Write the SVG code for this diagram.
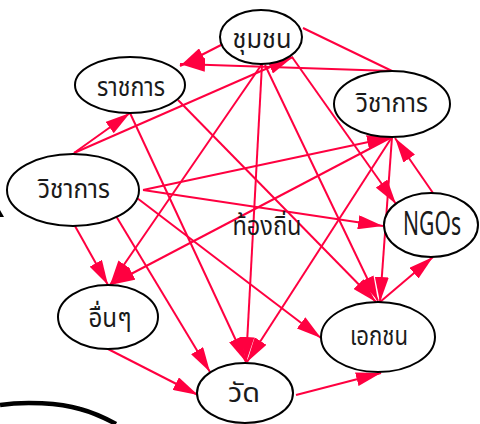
<svg xmlns="http://www.w3.org/2000/svg" width="480" height="424" viewBox="0 0 480 424">
<style>
.n ellipse{fill:#fff;stroke:#000;stroke-width:2}
.n text{font-family:"Noto Sans Thai","Loma","Garuda","Liberation Sans","Noto Sans",sans-serif;font-size:26px;fill:#1a1a1a;text-anchor:middle}
#edges line{stroke:#ff0040;stroke-width:2;fill:none}
#edges line.a{marker-end:url(#ah)}
</style>
<defs>
<marker id="ah" markerUnits="userSpaceOnUse" markerWidth="26" markerHeight="14" refX="25" refY="7" orient="auto">
<path d="M0,0 L25,7 L0,14 z" fill="#ff0040"/>
</marker>
</defs>
<rect width="480" height="424" fill="#fff"/>
<path d="M0,405 C25,401 60,403 80,409 C95,413 105,418 116,424" fill="none" stroke="#000" stroke-width="4.5"/>
<path d="M0,210 L4,217 L0,217 z" fill="#000"/>
<g id="edges">
<line class="a" x1="223" y1="44" x2="180" y2="66"/>
<line class="a" x1="392" y1="71" x2="180" y2="64"/>
<line class="a" x1="74" y1="153" x2="130" y2="113"/>
<line class="a" x1="74" y1="153" x2="293" y2="57"/>
<line x1="303" y1="28" x2="392" y2="71"/>
<line class="a" x1="262" y1="64" x2="110" y2="285"/>
<line class="a" x1="262" y1="64" x2="246" y2="362"/>
<line class="a" x1="292" y1="57" x2="396" y2="204"/>
<line class="a" x1="265" y1="65" x2="378" y2="301"/>
<line class="a" x1="130" y1="113" x2="246" y2="362"/>
<line class="a" x1="178" y1="100" x2="376" y2="302"/>
<line class="a" x1="75" y1="226" x2="108" y2="285"/>
<line class="a" x1="116" y1="216" x2="210" y2="372"/>
<line class="a" x1="143" y1="190" x2="392" y2="137"/>
<line class="a" x1="143" y1="190" x2="383" y2="226"/>
<line class="a" x1="137" y1="198" x2="321" y2="338"/>
<line class="a" x1="392" y1="137" x2="110" y2="285"/>
<line class="a" x1="392" y1="137" x2="247" y2="362"/>
<line class="a" x1="392" y1="137" x2="380" y2="302"/>
<line class="a" x1="433" y1="193" x2="395" y2="138"/>
<line class="a" x1="380" y1="302" x2="433" y2="257"/>
<line class="a" x1="108" y1="349" x2="198" y2="395"/>
<line class="a" x1="296" y1="395" x2="381" y2="373"/>
</g>
<g id="n-chumchon" class="n"><ellipse cx="261" cy="37" rx="41" ry="27"/><text x="262" y="48" textLength="59" lengthAdjust="spacingAndGlyphs">ชุมชน</text></g>
<g id="n-ratchakan" class="n"><ellipse cx="130" cy="85" rx="55" ry="28"/><text x="131" y="96" textLength="68" lengthAdjust="spacingAndGlyphs">ราชการ</text></g>
<g id="n-wichakan-r" class="n"><ellipse cx="392" cy="104" rx="58" ry="33"/><text x="392" y="112" textLength="72" lengthAdjust="spacingAndGlyphs">วิชาการ</text></g>
<g id="n-wichakan-l" class="n"><ellipse cx="73" cy="190" rx="66" ry="36"/><text x="74" y="198" textLength="72" lengthAdjust="spacingAndGlyphs">วิชาการ</text></g>
<g id="n-ngos" class="n"><ellipse cx="431" cy="225" rx="47" ry="32"/><text transform="translate(432,235) scale(1,1.35)" x="0" y="0" style="font-size:24px" textLength="58" lengthAdjust="spacingAndGlyphs">NGOs</text></g>
<g id="n-thongthin" class="n"><text x="267" y="235" textLength="69" lengthAdjust="spacingAndGlyphs">ท้องถิ่น</text></g>
<g id="n-ekkachon" class="n"><ellipse cx="378" cy="337" rx="57" ry="35"/><text x="379" y="345" textLength="58" lengthAdjust="spacingAndGlyphs">เอกชน</text></g>
<g id="n-uen" class="n"><ellipse cx="108" cy="317" rx="50" ry="32"/><text x="110" y="327" textLength="43" lengthAdjust="spacingAndGlyphs">อื่นๆ</text></g>
<g id="n-wat" class="n"><ellipse cx="245" cy="393" rx="48" ry="30"/><text x="244" y="402" textLength="32" lengthAdjust="spacingAndGlyphs">วัด</text></g>
</svg>
